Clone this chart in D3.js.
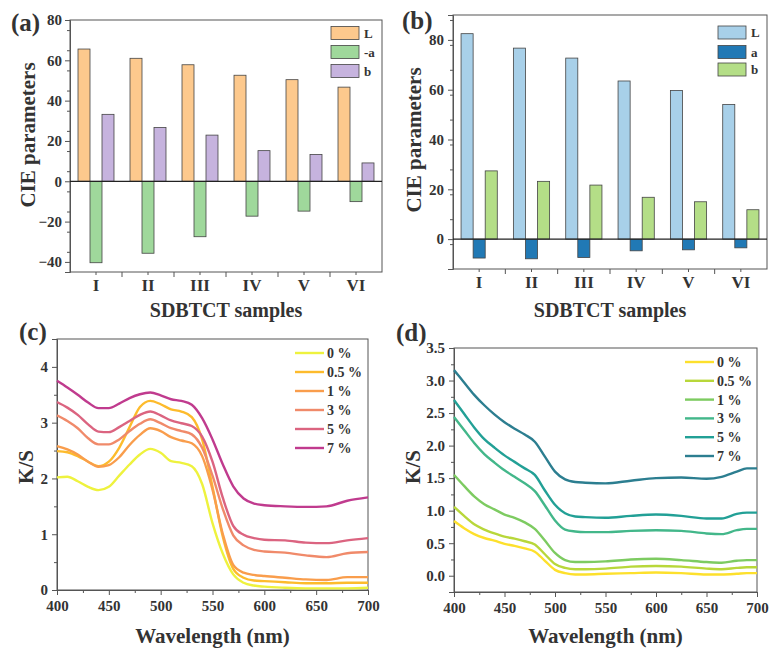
<!DOCTYPE html>
<html><head><meta charset="utf-8">
<script src="https://cdn.jsdelivr.net/npm/d3@7"></script>
<style>
body{margin:0;background:#fff;}
svg{display:block;}
svg text{font-family:"Liberation Serif","Times New Roman",serif;font-weight:bold;fill:#333;}
</style></head><body>
<svg id="fig" width="769" height="651"></svg>
<script>
// ---------- DATA ----------
const categories = ["I","II","III","IV","V","VI"];
const seriesA = ["L","-a","b"];
const aL = [65.6, 61.0, 57.8, 52.6, 50.4, 46.7];
const aNegA = [-40.4, -35.7, -27.5, -17.3, -14.8, -10.1];
const aB = [33.2, 26.7, 22.9, 15.2, 13.3, 9.1];
const seriesB = ["L","a","b"];
const bL = [82.5, 76.7, 72.7, 63.5, 59.7, 54.1];
const bA = [-7.6, -7.9, -7.4, -4.7, -4.3, -3.5];
const bB = [27.4, 23.2, 21.7, 16.8, 15.0, 11.8];
const yTicksA = [-40,-20,0,20,40,60,80];
const yTicksB = [0,20,40,60,80];

const concLabels = ["0 %","0.5 %","1 %","3 %","5 %","7 %"];
const wlC = [400,410,420,430,440,450,460,470,480,490,500,510,520,530,540,550,560,570,580,590,600,620,640,660,680,700];
const c0  = [2.02,2.03,1.95,1.85,1.79,1.85,2.05,2.25,2.43,2.53,2.46,2.31,2.28,2.22,1.90,1.20,0.65,0.28,0.13,0.08,0.06,0.04,0.03,0.03,0.03,0.04];
const c05 = [2.49,2.47,2.40,2.30,2.22,2.30,2.55,2.92,3.28,3.39,3.33,3.24,3.20,3.10,2.70,1.85,0.95,0.38,0.22,0.17,0.16,0.14,0.12,0.12,0.13,0.13];
const c1  = [2.58,2.52,2.43,2.30,2.21,2.24,2.38,2.60,2.78,2.90,2.85,2.74,2.68,2.63,2.40,1.80,1.00,0.45,0.31,0.27,0.25,0.22,0.19,0.18,0.23,0.23];
const c3  = [3.13,3.03,2.90,2.72,2.61,2.61,2.70,2.85,2.98,3.06,2.99,2.90,2.85,2.79,2.55,2.05,1.45,0.98,0.80,0.72,0.69,0.67,0.62,0.59,0.66,0.68];
const c5  = [3.37,3.27,3.14,2.97,2.84,2.83,2.92,3.03,3.14,3.20,3.13,3.04,2.99,2.94,2.75,2.30,1.65,1.15,0.99,0.93,0.90,0.89,0.85,0.84,0.89,0.93];
const c7  = [3.75,3.63,3.50,3.36,3.26,3.26,3.34,3.44,3.51,3.54,3.49,3.42,3.39,3.32,3.08,2.70,2.25,1.86,1.64,1.55,1.52,1.50,1.49,1.50,1.60,1.66];

const wlD = [400,410,420,430,440,450,460,470,480,490,500,510,520,530,550,575,600,625,650,665,680,690,700];
const d0  = [0.84,0.73,0.64,0.58,0.54,0.49,0.46,0.42,0.37,0.23,0.09,0.04,0.02,0.02,0.03,0.04,0.05,0.04,0.02,0.02,0.03,0.04,0.04];
const d05 = [1.06,0.92,0.79,0.71,0.65,0.60,0.57,0.53,0.48,0.33,0.18,0.12,0.10,0.10,0.11,0.14,0.15,0.14,0.11,0.10,0.12,0.13,0.13];
const d1  = [1.55,1.38,1.22,1.10,1.02,0.94,0.89,0.82,0.72,0.54,0.35,0.24,0.21,0.21,0.22,0.25,0.26,0.24,0.21,0.20,0.23,0.24,0.24];
const d3v = [2.44,2.24,2.04,1.87,1.74,1.62,1.52,1.42,1.30,1.08,0.85,0.71,0.68,0.67,0.67,0.69,0.70,0.69,0.65,0.64,0.70,0.72,0.72];
const d5  = [2.70,2.49,2.28,2.10,1.97,1.85,1.75,1.65,1.55,1.31,1.09,0.96,0.91,0.90,0.89,0.92,0.94,0.92,0.88,0.88,0.95,0.97,0.97];
const d7  = [3.16,2.97,2.78,2.62,2.48,2.36,2.26,2.17,2.06,1.83,1.60,1.48,1.44,1.43,1.42,1.46,1.50,1.51,1.49,1.52,1.60,1.65,1.65];
const xTicksWl = [400,450,500,550,600,650,700];
const yTicksC = [0,1,2,3,4];
const yTicksD = [0,0.5,1,1.5,2,2.5,3,3.5];

// ---------- STYLE ----------
const colA = ["#fdc98d","#9fd89b","#c6b3de"];
const colB = ["#a8d0e9","#2179b5","#b4de87"];
const colC = ["#eef23e","#fdbb2c","#f99d4c","#f08a6a","#db6480","#c03b8e"];
const colD = ["#fde02c","#b8d73a","#7dcb61","#43b78a","#22a096","#2c7e90"];
const AX = "#555";

const svg = d3.select("#fig");

function clean(ax, fs){
  ax.attr("font-family",null).attr("font-size",null);
  ax.selectAll("text").attr("font-size",fs).attr("fill","#333");
}
function frame(g, x0, x1, y0, y1){
  g.append("rect").attr("x",x0).attr("y",y0).attr("width",x1-x0).attr("height",y1-y0)
    .attr("fill","none").attr("stroke",AX).attr("stroke-width",1);
}
function yAxis(g, y, x0, ticks, minor, fmt, pad, fs){
  const ax = g.append("g").attr("transform",`translate(${x0},0)`)
    .call(d3.axisLeft(y).tickValues(ticks).tickSize(5).tickPadding(pad).tickFormat(fmt));
  ax.select(".domain").attr("stroke",AX);
  ax.selectAll(".tick line").attr("stroke",AX);
  clean(ax, fs);
  const mi = g.append("g").attr("transform",`translate(${x0},0)`)
    .call(d3.axisLeft(y).tickValues(minor).tickSize(3).tickFormat(""));
  mi.select(".domain").remove();
  mi.selectAll(".tick line").attr("stroke",AX);
}

// ---------- BAR PANELS ----------
function barPanel(opt){
  const g = svg.append("g");
  const x = d3.scaleBand().domain(categories).range([opt.x0,opt.x1]).padding(0);
  const y = d3.scaleLinear().domain(opt.yDom).range([opt.y1,opt.y0]);
  const xs = d3.scaleBand().domain(opt.series).range([0,x.bandwidth()]).paddingInner(0).paddingOuter(0.667);
  frame(g, opt.x0, opt.x1, opt.y0, opt.y1);
  const minor = d3.range(opt.yDom[0], opt.yDom[1]+0.001, 10).filter(v=>v%20!==0 && v>opt.yDom[0]);
  yAxis(g, y, opt.x0, opt.yTicks, minor, d3.format("d"), opt.pad, 15);
  const bx = g.append("g").attr("transform",`translate(0,${opt.y1})`)
    .call(d3.axisBottom(x).tickSize(0).tickPadding(7));
  bx.select(".domain").remove();
  clean(bx, 17);
  const bnd = categories.slice(1).map(c=>x(c));
  g.selectAll(".bt").data(bnd).join("line")
    .attr("x1",d=>d).attr("x2",d=>d).attr("y1",opt.y1).attr("y2",opt.y1+5).attr("stroke",AX);
  g.selectAll(".btm").data(categories).join("line")
    .attr("x1",d=>x(d)+x.bandwidth()/2).attr("x2",d=>x(d)+x.bandwidth()/2)
    .attr("y1",opt.y1).attr("y2",opt.y1+3).attr("stroke",AX);
  opt.series.forEach((s,si)=>{
    g.selectAll(null).data(opt.values[si]).join("rect")
      .attr("x",(d,i)=>x(categories[i])+xs(s))
      .attr("width",xs.bandwidth())
      .attr("y",d=>y(Math.max(0,d)))
      .attr("height",d=>Math.abs(y(d)-y(0)))
      .attr("fill",opt.colors[si]).attr("stroke","#444").attr("stroke-width",0.8);
  });
  g.append("line").attr("x1",opt.x0).attr("x2",opt.x1).attr("y1",y(0)).attr("y2",y(0))
    .attr("stroke","#222").attr("stroke-width",1.2);
  opt.series.forEach((s,si)=>{
    const cy = opt.legY[si];
    g.append("rect").attr("x",opt.legX).attr("y",cy-6.5).attr("width",28).attr("height",13)
      .attr("fill",opt.colors[si]).attr("stroke","#444").attr("stroke-width",0.8);
    g.append("text").attr("x",opt.legX+33).attr("y",cy).attr("dy","0.35em")
      .attr("font-size",13).text(s);
  });
  g.append("text").attr("transform",`translate(${opt.ylabX},${opt.ylabY}) rotate(-90)`)
    .attr("text-anchor","middle").attr("dy","0.35em").attr("font-size",21).text("CIE parameters");
  g.append("text").attr("x",(opt.x0+opt.x1)/2).attr("y",317).attr("text-anchor","middle")
    .attr("font-size",20).text("SDBTCT samples");
  g.append("text").attr("x",opt.tagX).attr("y",opt.tagY).attr("font-size",25).text(opt.tag);
}

barPanel({x0:70,x1:382,y0:20,y1:272,yDom:[-45,80],yTicks:yTicksA,series:seriesA,
  values:[aL,aNegA,aB],colors:colA,pad:3,legX:331,legY:[33,52,71],
  ylabX:28,ylabY:135,tag:"(a)",tagX:11,tagY:31});
barPanel({x0:453,x1:767,y0:15,y1:269,yDom:[-12,90],yTicks:yTicksB,series:seriesB,
  values:[bL,bA,bB],colors:colB,pad:4,legX:718,legY:[32.5,52,69.5],
  ylabX:414,ylabY:140,tag:"(b)",tagX:402,tagY:29});

// ---------- LINE PANELS ----------
function linePanel(opt){
  const g = svg.append("g");
  const x = d3.scaleLinear().domain([400,700]).range([opt.x0,opt.x1]);
  const y = d3.scaleLinear().domain(opt.yDom).range([opt.y1,opt.y0]);
  frame(g, opt.x0, opt.x1, opt.y0, opt.y1);
  yAxis(g, y, opt.x0, opt.yTicks, opt.yMinor, opt.fmt, 4, 15);
  const ax = g.append("g").attr("transform",`translate(0,${opt.y1})`)
    .call(d3.axisBottom(x).tickValues(xTicksWl).tickSize(5).tickPadding(5).tickFormat(d3.format("d")));
  ax.select(".domain").attr("stroke",AX);
  ax.selectAll(".tick line").attr("stroke",AX);
  clean(ax, 15);
  const mi = g.append("g").attr("transform",`translate(0,${opt.y1})`)
    .call(d3.axisBottom(x).tickValues([425,475,525,575,625,675]).tickSize(3).tickFormat(""));
  mi.select(".domain").remove();
  mi.selectAll(".tick line").attr("stroke",AX);
  const line = d3.line().x((d,i)=>x(opt.wl[i])).y(d=>y(d)).curve(d3.curveMonotoneX);
  opt.series.forEach((s,si)=>{
    g.append("path").attr("d",line(s)).attr("fill","none")
      .attr("stroke",opt.colors[si]).attr("stroke-width",2.4);
  });
  concLabels.forEach((l,i)=>{
    const cy = opt.legY0 + i*opt.legDy;
    g.append("line").attr("x1",opt.legX).attr("x2",opt.legX+29).attr("y1",cy).attr("y2",cy)
      .attr("stroke",opt.colors[i]).attr("stroke-width",2.4);
    g.append("text").attr("x",opt.legX+32).attr("y",cy).attr("dy","0.35em").attr("font-size",14).text(l);
  });
  g.append("text").attr("transform",`translate(${opt.ylabX},${opt.ylabY}) rotate(-90)`)
    .attr("text-anchor","middle").attr("dy","0.35em").attr("font-size",21).text("K/S");
  g.append("text").attr("x",(opt.x0+opt.x1)/2).attr("y",643).attr("text-anchor","middle")
    .attr("font-size",21).text("Wavelength (nm)");
  g.append("text").attr("x",opt.tagX).attr("y",opt.tagY).attr("font-size",25).text(opt.tag);
}

linePanel({x0:57,x1:368,y0:339,y1:590,yDom:[0,4.5],yTicks:yTicksC,yMinor:[0.5,1.5,2.5,3.5],
  fmt:d3.format("d"),wl:wlC,series:[c0,c05,c1,c3,c5,c7],colors:colC,
  legX:295,legY0:353,legDy:19,ylabX:26,ylabY:467,tag:"(c)",tagX:19,tagY:340});
linePanel({x0:454,x1:757,y0:348,y1:592,yDom:[-0.25,3.5],yTicks:yTicksD,yMinor:[-0.25,0.25,0.75,1.25,1.75,2.25,2.75,3.25],
  fmt:d3.format(".1f"),wl:wlD,series:[d0,d05,d1,d3v,d5,d7],colors:colD,
  legX:685,legY0:362,legDy:18.8,ylabX:413,ylabY:467,tag:"(d)",tagX:396,tagY:341});
</script>
</body></html>
